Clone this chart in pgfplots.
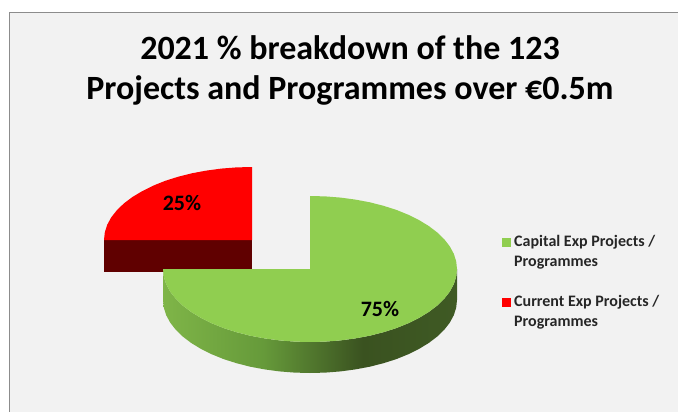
\documentclass[border=0pt]{standalone}
\usepackage{fontspec}
\setmainfont{Carlito}
\usepackage{pgfplots}
\pgfplotsset{compat=1.18}

\definecolor{panel}{HTML}{F2F2F2}
\definecolor{frame}{HTML}{8C8C8C}
\definecolor{pgreen}{HTML}{90CE50}
\definecolor{pred}{HTML}{FF0000}
\definecolor{preddark}{HTML}{600000}
\definecolor{g1}{HTML}{7FB548}
\definecolor{g2}{HTML}{669A3A}
\definecolor{g3}{HTML}{3A5220}
\definecolor{g4}{HTML}{3F5A24}
\pgfdeclarehorizontalshading{sidegreen}{100bp}{
  color(0bp)=(g1); color(25bp)=(g1); color(42bp)=(g2);
  color(59bp)=(g3); color(75bp)=(g4); color(100bp)=(g4)}

\begin{document}
\begin{tikzpicture}
\begin{axis}[
    hide axis,
    scale only axis,
    width=678bp,
    height=412bp,
    xmin=0, xmax=678,
    ymin=0, ymax=412,
    y dir=reverse,
    clip=true
]
% page and panel
\addplot[draw=none, fill=white] coordinates {(0,0) (678,0) (678,412) (0,412)} --cycle;
\addplot[draw=none, fill=panel] coordinates {(10,12) (678,12) (678,412) (10,412)} --cycle;
\addplot[frame, line width=1.5bp] coordinates {(9.5,412) (9.5,12.5) (678,12.5)};

% red slice: side, then top
\addplot[draw=none, fill=preddark] coordinates {(104,240) (252,240) (252,272) (104,272)} --cycle;
\addplot[draw=none, fill=pred] coordinates {
  (252,240) (252,167) (236.5,167.4) (221.2,168.6) (206.3,170.6) (191.8,173.3)
  (178,176.8) (165,180.9) (152.9,185.8) (142.1,191.2) (132.3,197.1) (123.8,203.5)
  (116.8,210.3) (111.2,217.4) (107.2,224.8) (104.8,232.4) (104,240)} --cycle;

% green slice: side, then top
\addplot[draw=none, shading=sidegreen] coordinates {
  (457,269) (456.2,276.6) (453.8,284.2) (449.8,291.6) (444.3,298.7) (437.3,305.5)
  (428.9,311.9) (419.2,317.8) (408.4,323.2) (396.4,328.1) (383.5,332.2) (369.8,335.7)
  (355.4,338.4) (340.6,340.4) (325.4,341.6) (310,342) (294.6,341.6) (279.4,340.4)
  (264.6,338.4) (250.2,335.7) (236.5,332.2) (223.6,328.1) (211.6,323.2) (200.8,317.8)
  (191.1,311.9) (182.7,305.5) (175.7,298.7) (170.2,291.6) (166.2,284.2) (163.8,276.6)
  (163,269)
  (163,300) (163.8,307.6) (166.2,315.2) (170.2,322.6) (175.7,329.7) (182.7,336.5)
  (191.1,342.9) (200.8,348.8) (211.6,354.2) (223.6,359.1) (236.5,363.2) (250.2,366.7)
  (264.6,369.4) (279.4,371.4) (294.6,372.6) (310,373) (325.4,372.6) (340.6,371.4)
  (355.4,369.4) (369.8,366.7) (383.5,363.2) (396.4,359.1) (408.4,354.2) (419.2,348.8)
  (428.9,342.9) (437.3,336.5) (444.3,329.7) (449.8,322.6) (453.8,315.2) (456.2,307.6)
  (457,300)} --cycle;
\addplot[draw=none, fill=pgreen] coordinates {
  (310,269) (310,196) (325.4,196.4) (340.6,197.6) (355.4,199.6) (369.8,202.3)
  (383.5,205.8) (396.4,209.9) (408.4,214.8) (419.2,220.2) (428.9,226.1) (437.3,232.5)
  (444.3,239.3) (449.8,246.4) (453.8,253.8) (456.2,261.4) (457,269)
  (456.2,276.6) (453.8,284.2) (449.8,291.6) (444.3,298.7) (437.3,305.5)
  (428.9,311.9) (419.2,317.8) (408.4,323.2) (396.4,328.1) (383.5,332.2) (369.8,335.7)
  (355.4,338.4) (340.6,340.4) (325.4,341.6) (310,342) (294.6,341.6) (279.4,340.4)
  (264.6,338.4) (250.2,335.7) (236.5,332.2) (223.6,328.1) (211.6,323.2) (200.8,317.8)
  (191.1,311.9) (182.7,305.5) (175.7,298.7) (170.2,291.6) (166.2,284.2) (163.8,276.6)
  (163,269)} --cycle;

% legend keys
\addplot[only marks, mark=square*, mark size=4.2bp, color=pgreen] coordinates {(506,242)};
\addplot[only marks, mark=square*, mark size=4.2bp, color=pred] coordinates {(506,302)};

% text
\node[font=\bfseries\fontsize{34bp}{39.5bp}\selectfont, align=center, text=black] at (axis cs:350,70.5)
  {2021 \% breakdown of the 123\\Projects and Programmes over €0.5m};
\node[font=\bfseries\fontsize{22bp}{22bp}\selectfont] at (axis cs:182,203) {25\%};
\node[font=\bfseries\fontsize{22bp}{22bp}\selectfont] at (axis cs:380,309) {75\%};
\node[font=\bfseries\fontsize{16bp}{19.5bp}\selectfont, align=left, anchor=west, inner sep=0pt, text=black!85] at (axis cs:514,252)
  {Capital Exp Projects /\\Programmes};
\node[font=\bfseries\fontsize{16bp}{19.5bp}\selectfont, align=left, anchor=west, inner sep=0pt, text=black!85] at (axis cs:514,312)
  {Current Exp Projects /\\Programmes};
\end{axis}
\end{tikzpicture}
\end{document}
